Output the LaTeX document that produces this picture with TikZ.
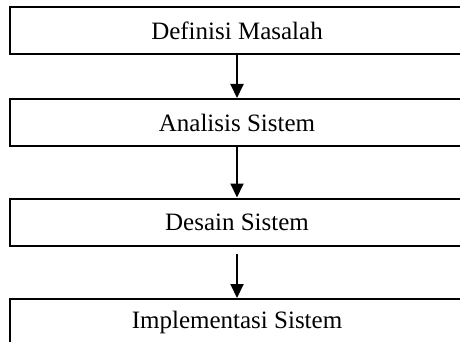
\documentclass[tikz,border=0pt]{standalone}
\usepackage{fontspec}
\setmainfont{Liberation Serif}
\usetikzlibrary{arrows.meta}

\begin{document}
\begin{tikzpicture}[x=0.5pt, y=-0.5pt, every node/.style={inner sep=1.5pt},
  stagebox/.style={draw, line width=1pt, minimum width=227pt, minimum height=23.5pt,
    font=\fontsize{12.5}{15}\selectfont},
  flow/.style={line width=1pt, -{Triangle[length=7pt,width=6.5pt]}}]
  \useasboundingbox (0,0) rectangle (460,342);
  \clip (0,0) rectangle (460,342);
  \node[stagebox] (def) at (237,31) {Definisi Masalah};
  \node[stagebox] (ana) at (237,122.5) {Analisis Sistem};
  \node[stagebox] (des) at (237,222) {Desain Sistem};
  \node[stagebox] (imp) at (237,322.5) {Implementasi Sistem};
  \draw[flow] (def) -- (ana);
  \draw[flow] (ana) -- (des);
  \draw[flow, shorten <=3.5pt] (des) -- (imp);
\end{tikzpicture}
\end{document}
